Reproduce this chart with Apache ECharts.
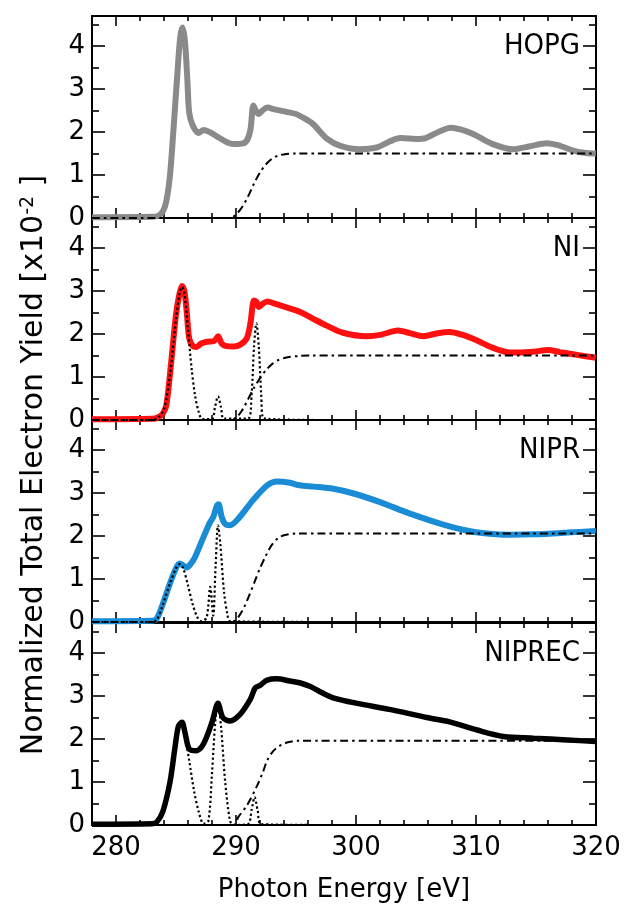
<!DOCTYPE html>
<html>
<head>
<meta charset="utf-8">
<script src="https://cdn.jsdelivr.net/npm/echarts@6/dist/echarts.min.js"></script>
<style>
  html, body { margin: 0; background: #fff; }
  #chart { width: 626px; height: 905px; }
</style>
</head>
<body>
<div id="chart"></div>
<script>
// tick positions (eV / yield)
const xMajor = [280, 290, 300, 310, 320]
const xMinor = [278, 282, 284, 286, 288, 292, 294, 296, 298, 302, 304, 306, 308, 312, 314, 316, 318]
const yMajor = [0, 1, 2, 3, 4]
const yMinor = [0.5, 1.5, 2.5, 3.5, 4.5]

const panelNames = ['HOPG', 'NI', 'NIPR', 'NIPREC']
const panelColors = ['#8a8a8a', '#ff1010', '#1a8cd6', '#000000']

// measured spectra, [photon energy, yield x1e-2]
const hopgCurve = [[278,0.02],[283,0.03],[283.5,0.05],[283.9,0.15],[284.2,0.4],[284.5,1.0],[284.8,2.1],[285.1,3.3],[285.35,4.2],[285.55,4.43],[285.75,4.1],[285.95,3.2],[286.1,2.45],[286.4,2.15],[286.9,1.98],[287.3,2.05],[287.8,2.0],[288.4,1.9],[289.2,1.77],[289.8,1.72],[290.5,1.73],[290.9,1.8],[291.2,2.05],[291.45,2.62],[291.65,2.5],[291.9,2.42],[292.2,2.5],[292.6,2.57],[293.3,2.52],[294.2,2.47],[295,2.42],[295.5,2.35],[296.4,2.19],[297.6,1.84],[298.7,1.68],[300.3,1.6],[301.7,1.64],[302.8,1.78],[303.7,1.86],[305,1.84],[305.8,1.86],[307,2.02],[307.9,2.1],[308.7,2.06],[309.8,1.95],[311.4,1.72],[313.1,1.6],[314.5,1.67],[315.9,1.74],[317,1.68],[318.1,1.57],[319,1.52],[320,1.5]]
const niCurve = [[278,0.02],[283,0.03],[283.5,0.06],[283.9,0.15],[284.2,0.35],[284.6,1.35],[285,2.45],[285.3,2.95],[285.5,3.12],[285.7,3.0],[285.9,2.5],[286.1,1.9],[286.4,1.72],[286.7,1.7],[287.1,1.78],[287.6,1.82],[288.2,1.84],[288.5,1.95],[288.8,1.78],[289.2,1.72],[289.8,1.71],[290.4,1.76],[290.9,1.9],[291.2,2.25],[291.5,2.78],[291.7,2.75],[291.9,2.63],[292.2,2.7],[292.6,2.76],[293.3,2.7],[294.2,2.62],[295.3,2.52],[296.4,2.36],[297.6,2.19],[298.9,2.03],[300.9,1.95],[302,1.98],[303.5,2.08],[304.5,2.02],[305.6,1.95],[306.8,2.02],[307.8,2.05],[308.9,1.98],[310,1.86],[310.9,1.74],[312,1.62],[312.8,1.57],[314.8,1.59],[316,1.63],[317,1.58],[318.1,1.53],[319,1.49],[320,1.45]]
const niprCurve = [[278,0.02],[283,0.03],[283.4,0.08],[283.9,0.42],[284.5,0.9],[285,1.25],[285.3,1.36],[285.6,1.32],[285.9,1.27],[286.3,1.38],[286.6,1.52],[287.3,1.98],[287.8,2.3],[288.1,2.44],[288.4,2.7],[288.55,2.74],[288.8,2.45],[289.1,2.28],[289.5,2.25],[290.3,2.44],[291.4,2.83],[292.6,3.18],[293.4,3.27],[294.5,3.24],[295.3,3.18],[296.5,3.15],[298.1,3.1],[299.8,2.99],[302,2.79],[304.5,2.52],[307,2.29],[309.2,2.13],[310.9,2.06],[312.8,2.03],[314.8,2.04],[317.6,2.08],[320,2.12]]
const niprecCurve = [[278,0.02],[283,0.03],[283.4,0.07],[283.9,0.31],[284.5,1.0],[284.9,1.77],[285.2,2.3],[285.5,2.39],[285.75,2.15],[286.1,1.77],[286.7,1.73],[287.3,1.89],[288,2.39],[288.5,2.83],[288.9,2.5],[289.5,2.42],[290.3,2.56],[291.2,2.93],[291.6,3.19],[292,3.25],[292.6,3.37],[293.4,3.4],[294.5,3.35],[295.3,3.31],[296.2,3.22],[297,3.1],[298.1,2.96],[300.1,2.83],[302.8,2.69],[305.9,2.5],[307.8,2.4],[310.1,2.21],[312.3,2.06],[314.8,2.02],[317.6,1.98],[320,1.94]]

// step edges (dash-dot)
const hopgEdge = [[278,0],[289.5,0],[290,0.08],[290.5,0.25],[291,0.5],[291.5,0.8],[292,1.06],[292.5,1.25],[293,1.38],[293.5,1.45],[294.2,1.49],[295,1.5],[320,1.5]]
const niEdge = [[278,0],[289.5,0],[290,0.05],[290.5,0.22],[291,0.48],[291.5,0.75],[292,0.97],[292.5,1.16],[293,1.3],[293.5,1.39],[294.3,1.46],[295.3,1.49],[296,1.5],[320,1.5]]
const niprEdge = [[278,0],[289.6,0],[290,0.05],[290.5,0.25],[291,0.55],[291.5,0.9],[292,1.25],[292.5,1.55],[293,1.8],[293.5,1.95],[294,2.02],[295,2.06],[320,2.06]]
const niprecEdge = [[278,0],[289.8,0],[290.2,0.19],[290.9,0.45],[291.7,0.88],[292.2,1.2],[292.6,1.5],[293.1,1.72],[293.7,1.85],[294.4,1.93],[295.1,1.96],[320,1.96]]

// fitted peaks (dotted)
const niPeaks = [[278,0],[283,0],[283.5,0.05],[284,0.25],[284.5,1.05],[285,2.35],[285.3,2.95],[285.5,3.1],[285.7,2.95],[286,2.1],[286.3,1.2],[286.6,0.55],[286.9,0.18],[287.2,0.02],[288,0.02],[288.25,0.3],[288.5,0.55],[288.75,0.3],[289,0.03],[291,0.03],[291.3,0.6],[291.5,1.7],[291.7,2.25],[291.9,1.7],[292.1,0.6],[292.3,0.04],[297,0]]
const niprPeaks = [[278,0],[283,0],[283.4,0.05],[283.9,0.4],[284.5,0.9],[285,1.25],[285.3,1.35],[285.6,1.25],[286,0.85],[286.4,0.4],[286.8,0.1],[287.1,0.02],[287.55,0.1],[287.85,0.82],[288.1,0.15],[288.3,1.3],[288.5,2.25],[288.7,1.8],[289,0.7],[289.3,0.15],[289.5,0.02],[297,0]]
const niprecPeaks = [[278,0],[283,0],[283.4,0.07],[283.9,0.31],[284.5,1.0],[284.9,1.77],[285.2,2.3],[285.5,2.38],[285.8,2.0],[286.1,1.5],[286.5,0.8],[286.9,0.3],[287.3,0.03],[287.7,0.1],[288,1.2],[288.3,2.5],[288.5,2.8],[288.75,2.3],[289.1,1.0],[289.5,0.1],[289.8,0],[291,0.02],[291.3,0.35],[291.55,0.65],[291.8,0.35],[292.1,0.02],[297,0]]

const curves = [hopgCurve, niCurve, niprCurve, niprecCurve]
const edges = [hopgEdge, niEdge, niprEdge, niprecEdge]
const peaks = [null, niPeaks, niprPeaks, niprecPeaks]

const FONT = '"DejaVu Sans", "Noto Sans", sans-serif'
const NARROW = '"Liberation Sans Narrow", "DejaVu Sans Condensed", "Liberation Sans", sans-serif'
const tops = [16, 218, 420, 623]
const H = 202
const YMAX = 4.7

function xAxis(g, pos, ticks, len, line, labels) {
  return {
    type: 'value', gridIndex: g, position: pos, min: 278, max: 320,
    axisLine: { show: line, onZero: false, lineStyle: { color: '#000', width: 2 } },
    axisTick: { show: true, inside: true, length: len, customValues: ticks, lineStyle: { color: '#000', width: 1.6 } },
    axisLabel: { show: labels, customValues: xMajor, margin: 10, color: '#000', fontSize: 26, fontFamily: FONT },
    splitLine: { show: false },
    name: labels ? 'Photon Energy [eV]' : '',
    nameLocation: 'middle', nameGap: 52,
    nameTextStyle: { color: '#000', fontSize: 26, fontFamily: FONT },
  }
}

function yAxis(g, pos, ticks, len, line, labels) {
  return {
    type: 'value', gridIndex: g, position: pos, min: 0, max: YMAX,
    axisLine: { show: line, onZero: false, lineStyle: { color: '#000', width: 2 } },
    axisTick: { show: true, inside: true, length: len, customValues: ticks, lineStyle: { color: '#000', width: 1.6 } },
    axisLabel: { show: labels, customValues: yMajor, margin: 7, color: '#000', fontSize: 26, fontFamily: FONT },
    splitLine: { show: false },
  }
}

const grids = [], xAxes = [], yAxes = [], series = [], graphics = []

panelNames.forEach((name, i) => {
  grids.push({ left: 92, right: 30, top: tops[i], height: H })
  const last = i === panelNames.length - 1
  const xi = xAxes.length, yi = yAxes.length
  xAxes.push(xAxis(i, 'bottom', xMajor, 10, true, last))
  xAxes.push(xAxis(i, 'bottom', xMinor, 5, false, false))
  xAxes.push(xAxis(i, 'top', xMajor, 10, true, false))
  xAxes.push(xAxis(i, 'top', xMinor, 5, false, false))
  yAxes.push(yAxis(i, 'left', yMajor, 13, true, true))
  yAxes.push(yAxis(i, 'left', yMinor, 7, false, false))
  yAxes.push(yAxis(i, 'right', yMajor, 13, true, false))
  yAxes.push(yAxis(i, 'right', yMinor, 7, false, false))

  series.push({
    type: 'line', xAxisIndex: xi, yAxisIndex: yi, data: curves[i],
    symbol: 'none', smooth: 0.3, z: 2,
    lineStyle: { color: panelColors[i], width: i === 3 ? 5.5 : 6 },
  })
  series.push({
    type: 'line', xAxisIndex: xi, yAxisIndex: yi, data: edges[i],
    symbol: 'none', smooth: 0.3, z: 3,
    lineStyle: { color: '#000', width: 2, type: [8, 4, 2.5, 4] },
  })
  if (peaks[i]) {
    series.push({
      type: 'line', xAxisIndex: xi, yAxisIndex: yi, data: peaks[i],
      symbol: 'none', smooth: 0.3, z: 4,
      lineStyle: { color: '#000', width: 2.2, type: [2.2, 2.6] },
    })
  }

  graphics.push({
    type: 'text', x: 580, y: tops[i] + H * (YMAX - 4) / YMAX,
    style: { text: name, font: '29px ' + NARROW, fill: '#000', align: 'right', verticalAlign: 'middle' },
  })
})

graphics.push({
  type: 'text', x: 34, y: 465, rotation: Math.PI / 2,
  style: {
    text: 'Normalized Total Electron Yield [x10{sup|-2} ]',
    fontSize: 30, fontFamily: FONT, fill: '#000', align: 'center', verticalAlign: 'middle',
    rich: { sup: { fontSize: 19, fontFamily: FONT, verticalAlign: 'top', fill: '#000' } },
  },
})

const chart = echarts.init(document.getElementById('chart'))
chart.setOption({
  animation: false,
  backgroundColor: '#fff',
  grid: grids,
  xAxis: xAxes,
  yAxis: yAxes,
  series: series,
  graphic: graphics,
})
</script>
</body>
</html>
